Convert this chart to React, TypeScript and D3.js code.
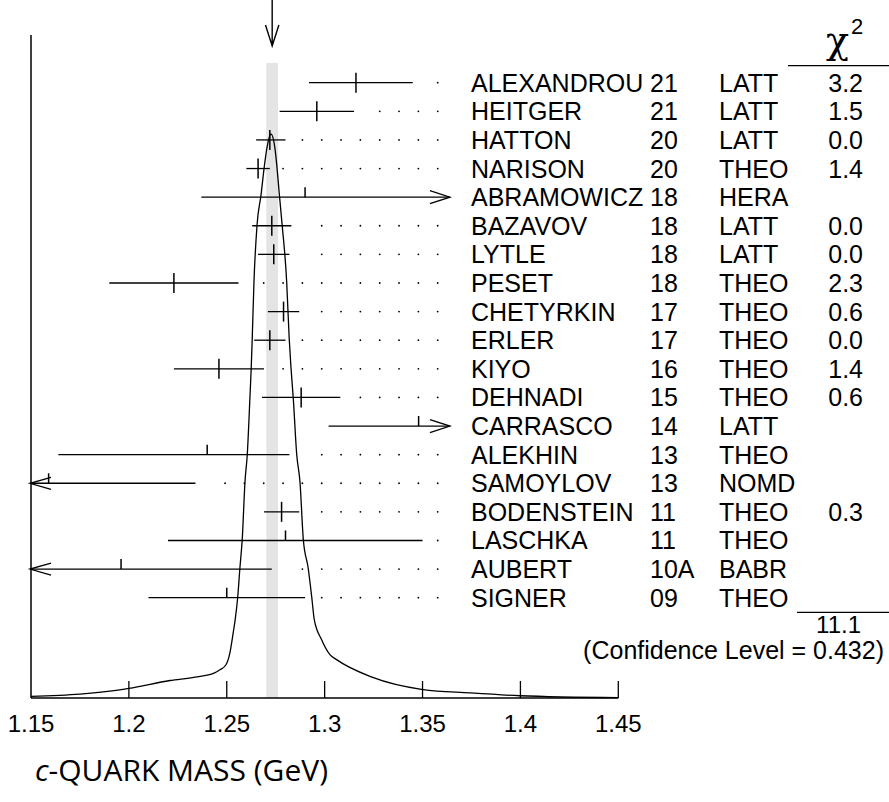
import { useEffect, useRef } from "react";
import * as d3 from "d3";

// measurements (c-quark mass, GeV)
const names = ["ALEXANDROU", "HEITGER", "HATTON", "NARISON", "ABRAMOWICZ", "BAZAVOV", "LYTLE", "PESET", "CHETYRKIN", "ERLER", "KIYO", "DEHNADI", "CARRASCO", "ALEKHIN", "SAMOYLOV", "BODENSTEIN", "LASCHKA", "AUBERT", "SIGNER"];
const years = ["21", "21", "20", "20", "18", "18", "18", "18", "17", "17", "16", "15", "14", "13", "13", "11", "11", "10A", "09"];
const techniques = ["LATT", "LATT", "LATT", "THEO", "HERA", "LATT", "LATT", "THEO", "THEO", "THEO", "THEO", "THEO", "LATT", "THEO", "NOMD", "THEO", "THEO", "BABR", "THEO"];
const chi2 = ["3.2", "1.5", "0.0", "1.4", "", "0.0", "0.0", "2.3", "0.6", "0.0", "1.4", "0.6", "", "", "", "0.3", "", "", ""];
const values = [1.316, 1.296, 1.272, 1.266, 1.290, 1.273, 1.274, 1.223, 1.279, 1.272, 1.246, 1.288, 1.348, 1.240, 1.159, 1.278, 1.280, 1.196, 1.250];
const lowers = [1.292, 1.277, 1.265, 1.260, 1.237, 1.263, 1.266, 1.190, 1.271, 1.264, 1.223, 1.268, 1.302, 1.164, 1.084, 1.269, 1.220, 1.119, 1.210];
const uppers = [1.345, 1.315, 1.280, 1.272, 1.375, 1.283, 1.282, 1.256, 1.287, 1.280, 1.269, 1.308, 1.394, 1.282, 1.234, 1.287, 1.350, 1.273, 1.290];

// ideogram curve (relative height)
const curveMass = [1.15, 1.175, 1.1944, 1.2, 1.221, 1.2338, 1.2435, 1.2465, 1.2496, 1.2516, 1.2533, 1.2543, 1.2556, 1.2567, 1.2579, 1.2593, 1.2605, 1.2618, 1.2625, 1.263, 1.2639, 1.2655, 1.2675, 1.2692, 1.2705, 1.2726, 1.2746, 1.2756, 1.2768, 1.2782, 1.2806, 1.2819, 1.2828, 1.284, 1.2857, 1.2874, 1.2891, 1.2916, 1.2934, 1.2947, 1.2985, 1.3027, 1.3061, 1.3242, 1.3502, 1.3742, 1.3997, 1.4498];
const curveHeight = [0.003, 0.007, 0.014, 0.017, 0.031, 0.037, 0.044, 0.05, 0.059, 0.08, 0.116, 0.139, 0.179, 0.23, 0.281, 0.383, 0.433, 0.53, 0.586, 0.637, 0.738, 0.84, 0.892, 0.943, 0.975, 1.0, 0.975, 0.943, 0.895, 0.842, 0.738, 0.637, 0.586, 0.53, 0.433, 0.383, 0.281, 0.23, 0.179, 0.139, 0.103, 0.077, 0.068, 0.037, 0.015, 0.009, 0.004, 0.0005];

const average = 1.2732;
const averageError = 0.003;
const chi2Total = "11.1";
const confidence = "0.432";
const xTicks = [1.15, 1.2, 1.25, 1.3, 1.35, 1.4, 1.45];

export default function App() {
    const ref = useRef<SVGSVGElement>(null);

    useEffect(() => {
        const svg = d3.select(ref.current);
        svg.selectAll("*").remove();

        const width = 889;
        const baseY = 698;
        const showMax = 1.364; // points are drawn only up to here, then an arrow

        const x = d3.scaleLinear().domain([1.15, 1.45]).range([31, 618.3]);
        const y = d3.scalePoint().domain(names).range([82.7, 597.7]);
        const h = d3.scaleLinear().domain([0, 1]).range([baseY, 134]);

        const sans = "'Liberation Sans', Arial, sans-serif";

        // shaded band for the average
        svg.append("rect")
            .attr("x", x(average - averageError))
            .attr("y", 63)
            .attr("width", x(average + averageError) - x(average - averageError))
            .attr("height", baseY - 63)
            .attr("fill", "#e4e4e4");

        // arrow at top pointing to the average
        const ax = x(average);
        svg.append("path")
            .attr("d", `M${ax},0 V46 M${ax - 6.7},25 L${ax},46 L${ax + 6.7},25`)
            .attr("fill", "none").attr("stroke", "#000").attr("stroke-width", 1.4);

        // axes
        svg.append("line").attr("x1", 31).attr("x2", 31).attr("y1", 35).attr("y2", baseY)
            .attr("stroke", "#000").attr("stroke-width", 1.5);
        svg.append("line").attr("x1", 31).attr("x2", x(1.45)).attr("y1", baseY).attr("y2", baseY)
            .attr("stroke", "#000").attr("stroke-width", 1.5);
        svg.selectAll(".tick").data(xTicks.slice(1)).enter().append("line")
            .attr("x1", d => x(d)).attr("x2", d => x(d))
            .attr("y1", baseY).attr("y2", baseY - 17)
            .attr("stroke", "#000").attr("stroke-width", 1.3);
        svg.selectAll(".tlab").data(xTicks).enter().append("text")
            .attr("x", d => x(d)).attr("y", baseY + 34)
            .attr("text-anchor", "middle")
            .style("font-family", sans).style("font-size", "24px")
            .text(d => String(d));

        // ideogram curve
        const line = d3.line<number>()
            .x((d, i) => x(curveMass[i]))
            .y(d => h(d))
            .curve(d3.curveMonotoneX);
        svg.append("path")
            .datum(curveHeight)
            .attr("fill", "none").attr("stroke", "#000").attr("stroke-width", 1.3)
            .attr("d", line);

        // measurements
        names.forEach((name, i) => {
            const yy = y(name) as number;
            const lo = Math.max(lowers[i], 1.15);
            const hi = Math.min(uppers[i], showMax);
            const x1 = lowers[i] < 1.15 ? 30 : x(lo);
            const x2 = x(hi);
            svg.append("line").attr("x1", x1).attr("x2", x2).attr("y1", yy).attr("y2", yy)
                .attr("stroke", "#000").attr("stroke-width", 1.3);
            if (lowers[i] < 1.15) {
                svg.append("path").attr("d", `M${x1 + 21},${yy - 6} L${x1},${yy} L${x1 + 21},${yy + 6}`)
                    .attr("fill", "none").attr("stroke", "#000").attr("stroke-width", 1.3);
            }
            if (uppers[i] > showMax) {
                svg.append("path").attr("d", `M${x2 - 20},${yy - 6.5} L${x2},${yy} L${x2 - 20},${yy + 6.5}`)
                    .attr("fill", "none").attr("stroke", "#000").attr("stroke-width", 1.3);
            }
            // central value tick: full for points in the fit, half otherwise
            const inFit = chi2[i] !== "";
            svg.append("line").attr("x1", x(values[i])).attr("x2", x(values[i]))
                .attr("y1", yy - 10).attr("y2", inFit ? yy + 10 : yy)
                .attr("stroke", "#000").attr("stroke-width", 1.5);

            // dotted leader to the label
            if (uppers[i] <= showMax) {
                for (let px = 437.7; px > 31; px -= 19.33) {
                    if (px > x2 + 13) {
                        svg.append("circle").attr("cx", px).attr("cy", yy).attr("r", 0.9).attr("fill", "#000");
                    }
                }
            }

            const row = svg.append("g").style("font-family", sans).style("font-size", "25px");
            row.append("text").attr("x", 471).attr("y", yy + 9).text(name);
            row.append("text").attr("x", 650).attr("y", yy + 9).text(years[i]);
            row.append("text").attr("x", 719).attr("y", yy + 9).text(techniques[i]);
            row.append("text").attr("x", 863).attr("y", yy + 9).attr("text-anchor", "end").text(chi2[i]);
        });

        // chi-square header
        svg.append("text").attr("x", 826).attr("y", 53)
            .style("font-family", "'DejaVu Serif', serif").style("font-size", "38px")
            .text("χ");
        svg.append("text").attr("x", 851).attr("y", 33.5)
            .style("font-family", sans).style("font-size", "22px")
            .text("2");
        svg.append("line").attr("x1", 788).attr("x2", width).attr("y1", 65.7).attr("y2", 65.7)
            .attr("stroke", "#000").attr("stroke-width", 1.3);

        // total
        svg.append("line").attr("x1", 797).attr("x2", width).attr("y1", 612.3).attr("y2", 612.3)
            .attr("stroke", "#000").attr("stroke-width", 1.3);
        svg.append("text").attr("x", 861).attr("y", 633).attr("text-anchor", "end")
            .style("font-family", sans).style("font-size", "24px")
            .text(chi2Total);
        svg.append("text").attr("x", 884).attr("y", 659).attr("text-anchor", "end")
            .style("font-family", sans).style("font-size", "25px")
            .text(`(Confidence Level = ${confidence})`);

        // axis title
        const title = svg.append("text").attr("x", 35).attr("y", 781)
            .style("font-family", "'Open Sans', sans-serif").style("font-size", "30px");
        title.append("tspan").style("font-style", "italic").text("c");
        title.append("tspan").text("-QUARK MASS (GeV)");
    }, []);

    return (
        <svg ref={ref} width={889} height={802}
            style={{ position: "absolute", left: 0, top: 0, background: "#fff" }} />
    );
}
